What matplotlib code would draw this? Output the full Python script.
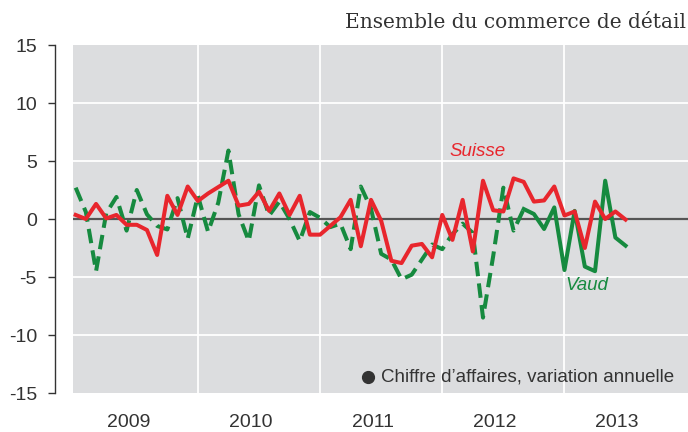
import numpy as np
import pandas as pd
import matplotlib
matplotlib.use("Agg")
import matplotlib.pyplot as plt

# Chiffre d'affaires du commerce de détail, variation annuelle (%), mensuel
mois = pd.date_range("2009-01-01", periods=55, freq="MS")

suisse = [0.35, 0.0, 1.3, 0.05, 0.35, -0.5, -0.5, -0.95, -3.1, 2.0, 0.35, 2.8,
          1.55, 2.2, 2.75, 3.3, 1.15, 1.3, 2.35, 0.7, 2.2, 0.35, 2.0, -1.35,
          -1.35, -0.6, 0.15, 1.65, -2.35, 1.65, -0.15, -3.6, -3.8, -2.3, -2.15, -3.3,
          0.35, -1.8, 1.65, -2.8, 3.3, 0.75, 0.65, 3.5, 3.2, 1.5, 1.6, 2.8,
          0.3, 0.65, -2.5, 1.5, 0.0, 0.65, -0.05]

vaud = [2.7, 0.6, -4.5, 0.5, 1.9, -1.0, 2.5, 0.4, -0.6, -0.9, 1.8, -1.7,
        2.0, -1.1, 1.4, 5.9, 0.4, -1.9, 2.9, 0.3, 1.5, 0.0, -1.9, 0.6,
        0.1, -0.7, -0.4, -2.6, 2.8, 0.9, -3.0, -3.5, -5.2, -4.8, -3.5, -2.2,
        -2.6, -1.3, -0.4, -1.2, -8.5, -3.2, 2.7, -1.0, 0.86, 0.43, -0.86, 1.0,
        -4.4, 0.7, -4.1, -4.5, 3.3, -1.6, -2.3]

annees = [2009, 2010, 2011, 2012, 2013]
yticks = [-15, -10, -5, 0, 5, 10, 15]
coupure = 44  # Vaud: pointillé avant, trait plein après

rouge = "#E8262D"
vert = "#168A3F"
fond = "#DCDDDF"
texte = "#333333"

x = mois.year + (mois.month - 1) / 12

plt.rcParams["font.family"] = ["Liberation Sans", "DejaVu Sans"]

fig = plt.figure(figsize=(6.88, 4.32), dpi=100)
ax = fig.add_axes([73 / 688, 1 - 393 / 432, 615 / 688, 348 / 432])
ax.set_facecolor(fond)

ax.set_xlim(2008.978, 2014.011)
ax.set_ylim(-15, 15)

# grille blanche
for v in [-10, -5, 5, 10]:
    ax.axhline(v, color="white", lw=1.3, zorder=1)
for a in annees[1:]:
    ax.axvline(a, color="white", lw=1.3, zorder=1)
ax.axhline(0, color="#555555", lw=1.6, zorder=2)

ax.plot(x[:coupure + 1], vaud[:coupure + 1], color=vert, lw=2.9,
        dashes=(3.6, 1.8), zorder=3)
ax.plot(x[coupure:], vaud[coupure:], color=vert, lw=2.9, zorder=3)
ax.plot(x, suisse, color=rouge, lw=2.9, zorder=4)

ax.text(2012.29, 5.85, "Suisse", color=rouge, fontsize=13.5, style="italic",
        ha="center", va="center")
ax.text(2013.18, -5.75, "Vaud", color=vert, fontsize=13.5, style="italic",
        ha="center", va="center")

ax.plot([2011.39], [-13.65], "o", color=texte, ms=8.5, zorder=5)
ax.text(2011.50, -13.65, "Chiffre d\u2019affaires, variation annuelle",
        color=texte, fontsize=13.5, ha="left", va="center")

# axes
for s in ["top", "right", "bottom"]:
    ax.spines[s].set_visible(False)
ax.spines["left"].set_position(("outward", 13))
ax.spines["left"].set_color(texte)
ax.spines["left"].set_linewidth(1)

ax.set_yticks(yticks)
ax.set_yticklabels([str(v) for v in yticks])
ax.tick_params(axis="y", length=5, width=1, color=texte, labelsize=14,
               labelcolor=texte, pad=8)

ax.set_xticks([a + 0.43 for a in annees])
ax.set_xticklabels([str(a) for a in annees])
ax.tick_params(axis="x", length=0, labelsize=14, labelcolor=texte, pad=15)

fig.text(686 / 688, 1 - 22 / 432, "Ensemble du commerce de d\u00e9tail",
         family="DejaVu Serif", fontsize=14.5, color=texte, ha="right", va="center")

fig.savefig("out.png", dpi=100)
